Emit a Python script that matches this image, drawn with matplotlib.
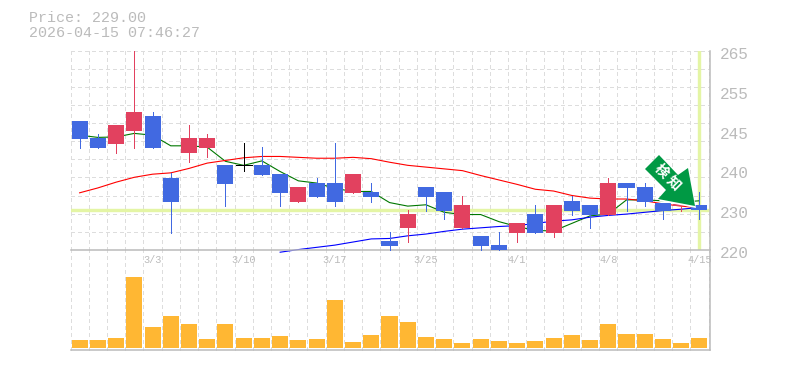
import numpy as np
import matplotlib
matplotlib.use('Agg')
import matplotlib.pyplot as plt
from matplotlib.patches import Polygon
from matplotlib.transforms import ScaledTranslation

price_text = 'Price: 229.00'
time_text = '2026-04-15 07:46:27'

opens = [249.1, 245.3, 243.9, 246.8, 250.2, 236.2, 241.9, 243.0, 239.2, 239.1, 239.2, 237.1,
         230.8, 235.1, 235.1, 232.9, 233.1, 222.0, 225.0, 234.2, 233.1, 225.0, 223.2, 221.1,
         223.8, 228.1, 223.8, 231.1, 230.2, 227.9, 235.1, 234.2, 230.6, 229.9, 230.2]
highs = [249.1, 246.2, 248.2, 265.0, 251.1, 237.3, 248.2, 246.2, 239.2, 244.1, 243.2, 237.1,
         234.2, 236.2, 244.1, 237.1, 235.1, 224.1, 229.0, 234.2, 233.1, 232.2, 223.2, 224.1,
         226.1, 230.2, 230.2, 232.2, 230.2, 236.2, 235.1, 235.1, 230.6, 230.6, 233.1]
lows = [243.0, 243.0, 241.9, 243.0, 243.0, 223.8, 239.9, 241.0, 229.9, 237.8, 236.9, 229.9,
        230.8, 232.0, 229.9, 232.9, 230.8, 219.9, 221.8, 228.8, 227.0, 225.0, 219.9, 219.9,
        221.8, 223.8, 222.9, 227.9, 225.0, 227.9, 228.8, 229.9, 227.0, 228.8, 227.0]
closes = [245.0, 243.0, 248.2, 251.1, 243.0, 230.8, 245.3, 245.3, 234.9, 239.1, 236.9, 232.9,
          234.2, 232.0, 230.8, 237.1, 232.0, 220.9, 228.1, 232.0, 228.8, 230.2, 220.9, 219.9,
          226.1, 223.8, 230.2, 228.8, 227.9, 235.1, 234.0, 230.8, 228.8, 230.4, 229.0]
ma_short = [245.9, 245.4, 245.5, 246.3, 245.9, 243.5, 243.5, 243.2, 240.0, 239.1, 240.1, 237.7,
            235.6, 235.1, 233.9, 233.2, 233.2, 230.7, 229.9, 230.2, 228.5, 228.0, 228.0, 226.4,
            225.3, 224.4, 224.3, 226.0, 227.7, 228.1, 231.3, 231.3, 231.1, 230.8, 231.1]
ma_mid = [232.9, 234.0, 235.3, 236.4, 237.1, 237.4, 238.4, 239.6, 240.2, 240.8, 241.1, 241.1,
          240.9, 240.7, 240.7, 240.9, 240.6, 239.8, 239.1, 238.7, 238.3, 237.9, 236.8, 235.8,
          234.8, 233.7, 233.3, 232.3, 231.7, 231.5, 231.5, 231.1, 230.4, 229.9, 229.5]
ma_long = [np.nan] * 11 + [219.5, 220.1, 220.6, 221.1, 221.8, 222.5, 222.6, 223.2, 223.6, 224.2,
                           224.7, 225.0, 225.3, 225.5, 226.0, 226.5, 226.8, 227.4, 227.8, 228.1,
                           228.5, 228.9, 229.2, 229.6]
volumes = [8, 8, 10, 71, 21, 32, 24, 9, 24, 10, 10, 12, 8, 9, 48, 6, 13, 32, 26, 11, 9, 5, 9, 7,
           5, 7, 10, 13, 8, 24, 14, 14, 9, 5, 10]
date_ticks = [4, 9, 14, 19, 24, 29, 34]
date_labels = ['3/3', '3/10', '3/17', '3/25', '4/1', '4/8', '4/15']
price_ticks = [220, 229, 238, 247, 256, 265]
price_labels = ['220', '230', '240', '245', '255', '265']

BLUE = '#4169e1'
RED = '#e2415f'
GRID = '#dddddd'
AXIS = '#bbbbbb'
BAND = '#e4f5a5'
FONT = 'Liberation Mono'
PX = 0.72  # one pixel in points at dpi 100

W, H = 785, 370
LEFT, RIGHT, TOP, MID, BOTTOM = 70.5, 710, 50.5, 250, 350

fig = plt.figure(figsize=(W / 100, H / 100), dpi=100)
ax_vol = fig.add_axes([LEFT / W, (H - BOTTOM) / H, (RIGHT - LEFT) / W, (BOTTOM - MID) / H])
ax = fig.add_axes([LEFT / W, (H - MID) / H, (RIGHT - LEFT) / W, (MID - TOP) / H])
ax.patch.set_alpha(0)

x = np.arange(len(closes))
xlim = (-0.5, 34.58)
grid_x = np.arange(len(closes) + 1) - 0.5


def style_axes(a):
    a.set_xlim(*xlim)
    a.spines['left'].set_visible(False)
    a.spines['top'].set_visible(False)
    a.spines['right'].set_color(AXIS)
    a.spines['bottom'].set_color(AXIS)
    a.spines['right'].set_linewidth(1.1)
    a.spines['bottom'].set_linewidth(1.1)
    for g in grid_x:
        a.axvline(g, color=GRID, lw=PX, ls=(0, (3, 3)), zorder=0, clip_on=False, antialiased=False)


style_axes(ax)
style_axes(ax_vol)

# price panel
ax.set_ylim(price_ticks[0], price_ticks[-1])
for g in np.linspace(price_ticks[0], price_ticks[-1], 12)[1:]:
    ax.axhline(g, color=GRID, lw=PX, ls=(0, (3, 3)), zorder=0, antialiased=False)

ax.axhline(closes[-1], color=BAND, lw=3.4 * PX, zorder=1)
ax.plot([x[-1], x[-1]], [price_ticks[0] + 0.3, price_ticks[-1]], color=BAND, lw=3.4 * PX, zorder=1)

ax.plot(x, ma_short, color='#007700', lw=0.8, zorder=2, clip_on=False)
ax.plot(x, ma_mid, color='#ff0000', lw=0.8, zorder=2, clip_on=False)
ax.plot(x, ma_long, color='#0000ff', lw=0.8, zorder=2, clip_on=False)

for i in x:
    o, h, l, c = opens[i], highs[i], lows[i], closes[i]
    if c == o:
        col = 'black'
        ax.plot([i - 0.44, i + 0.44], [c, c], color=col, lw=PX, zorder=3, solid_capstyle='butt',
                antialiased=False)
    else:
        col = RED if c > o else BLUE
        ax.bar(i, abs(c - o), bottom=min(o, c), width=0.88, color=col, lw=0, zorder=3)
    ax.plot([i, i], [l, h], color=col, lw=PX, zorder=3, clip_on=False, solid_capstyle='butt',
            antialiased=False)

ax.yaxis.tick_right()
ax.set_yticks(price_ticks)
ax.set_yticklabels(price_labels, family=FONT, fontsize=11.6, color=AXIS)
ax.tick_params(axis='y', length=0, pad=7)
for lab in ax.get_yticklabels():
    lab.set_transform(lab.get_transform() + ScaledTranslation(0, -2.2 / 100, fig.dpi_scale_trans))

ax.set_xticks(date_ticks)
ax.set_xticklabels(date_labels, family=FONT, fontsize=7.4, color=AXIS)
ax.tick_params(axis='x', length=0, pad=3.5)

# volume panel
ax_vol.set_ylim(-2, 98)
ax_vol.bar(x, volumes, width=0.88, color='#ffb733', lw=0, zorder=3)
ax_vol.set_xticks([])
ax_vol.set_yticks([])

# overlay in pixel units, for the header and the signal arrow
over = fig.add_axes([0, 0, 1, 1])
over.set_xlim(0, W)
over.set_ylim(H, 0)
over.axis('off')
over.patch.set_alpha(0)

over.text(29, 18.5, price_text, family=FONT, fontsize=10.8, color=AXIS, va='center', ha='left')
over.text(29, 33, time_text, family=FONT, fontsize=10.8, color=AXIS, va='center', ha='left')

arrow = np.array([[659, 155], [678, 175], [688, 168], [695, 206], [658, 199], [666, 190], [645, 169]])
over.add_patch(Polygon(arrow + [1, 2], closed=True, fc='white', ec='none', zorder=4))
over.add_patch(Polygon(arrow, closed=True, fc='#009944', ec='none', zorder=5))
over.text(667.5, 177, '検 知', family=['Noto Sans CJK JP', 'DejaVu Sans'], fontsize=10, fontweight='bold',
          color='white', rotation=-45, rotation_mode='anchor', ha='center', va='center', zorder=6)

fig.savefig('out.png', dpi=100)
